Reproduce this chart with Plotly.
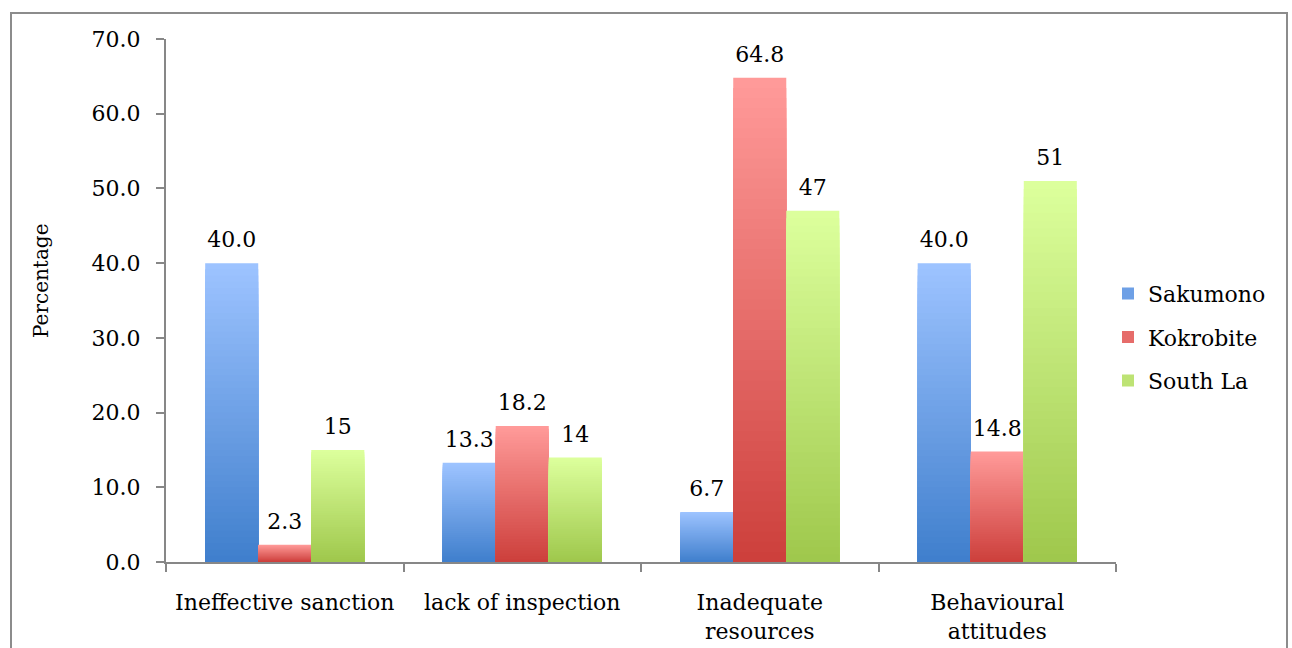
import plotly.graph_objects as go

# Problem categories on the x axis
categories = ["Ineffective sanction", "lack of inspection",
              "Inadequate<br>resources", "Behavioural<br>attitudes"]

# Percentages per site
sakumono = [40.0, 13.3, 6.7, 40.0]
kokrobite = [2.3, 18.2, 64.8, 14.8]
south_la = [15, 14, 47, 51]

# Value labels shown above the bars
sakumono_labels = ["40.0", "13.3", "6.7", "40.0"]
kokrobite_labels = ["2.3", "18.2", "64.8", "14.8"]
south_la_labels = ["15", "14", "47", "51"]

# (name, values, labels, top colour, bottom colour)
series = [
    ("Sakumono", sakumono, sakumono_labels, (157, 195, 255), (62, 126, 204)),
    ("Kokrobite", kokrobite, kokrobite_labels, (255, 154, 153), (204, 62, 58)),
    ("South La", south_la, south_la_labels, (220, 255, 156), (158, 199, 75)),
]

FONT = "DejaVu Serif"
FS = 22
STEPS = 48  # vertical gradient slices per bar
GAP = 0.33


def mix(top, bottom, f):
    r, g, b = (round(bottom[i] + (top[i] - bottom[i]) * f) for i in range(3))
    return f"rgb({r},{g},{b})"


fig = go.Figure()

# Gradient bars: overlapping slices in the same offset group, tallest first
for name, vals, labels, top, bottom in series:
    for k in range(STEPS, 0, -1):
        frac = k / STEPS
        fig.add_trace(go.Bar(
            x=categories,
            y=[v * frac for v in vals],
            name=name,
            offsetgroup=name,
            legendgroup=name,
            showlegend=(k == STEPS // 2),
            marker=dict(color=mix(top, bottom, frac), line=dict(width=0)),
            hoverinfo="skip",
        ))

# Value labels, grouped the same way as the bars; the invisible marker
# keeps a little space between the label and the bar top
for name, vals, labels, top, bottom in series:
    fig.add_trace(go.Scatter(
        x=categories,
        y=vals,
        mode="markers+text",
        text=labels,
        textposition="top center",
        textfont=dict(family=FONT, size=FS, color="#000000"),
        marker=dict(size=15, color="rgba(0,0,0,0)"),
        offsetgroup=name,
        showlegend=False,
        cliponaxis=False,
        hoverinfo="skip",
    ))

axis_color = "#878787"

fig.update_layout(
    width=1292,
    height=648,
    barmode="group",
    bargap=GAP,
    bargroupgap=0,
    scattermode="group",
    scattergap=GAP,
    plot_bgcolor="white",
    paper_bgcolor="white",
    margin=dict(l=166, r=176, t=39, b=86, autoexpand=False),
    font=dict(family=FONT, size=FS, color="#000000"),
    showlegend=True,
    legend=dict(
        x=(1108 - 166) / 950, xanchor="left",
        y=0.43, yanchor="middle",
        font=dict(family=FONT, size=FS, color="#000000"),
        tracegroupgap=12,
        itemwidth=30,
        bgcolor="rgba(0,0,0,0)",
    ),
    xaxis=dict(
        type="category",
        automargin=False,
        showline=True, linecolor=axis_color, linewidth=2,
        ticks="outside", tickson="boundaries", ticklen=8,
        tickcolor=axis_color, tickwidth=2,
        ticklabelstandoff=20,
        showgrid=False,
        tickfont=dict(family=FONT, size=FS),
    ),
    yaxis=dict(
        range=[0, 70], dtick=10, tickformat=".1f",
        automargin=False,
        showline=True, linecolor=axis_color, linewidth=2,
        ticks="outside", ticklen=8, tickcolor=axis_color, tickwidth=2,
        ticklabelstandoff=11,
        showgrid=False, zeroline=False,
        tickfont=dict(family=FONT, size=FS),
    ),
    annotations=[dict(
        text="Percentage", textangle=-90,
        xref="paper", yref="paper",
        x=(41 - 166) / 950, y=(562 - 281) / 523,
        xanchor="center", yanchor="middle",
        showarrow=False,
        font=dict(family=FONT, size=20, color="#000000"),
    )],
    shapes=[dict(
        type="rect", xref="paper", yref="paper",
        x0=(11 - 166) / 950, x1=(1287 - 166) / 950,
        y0=-0.3, y1=(562 - 13) / 523,
        line=dict(color="#8c8c8c", width=2),
        fillcolor="rgba(0,0,0,0)",
        layer="below",
    )],
)

fig.write_html("out.html")
